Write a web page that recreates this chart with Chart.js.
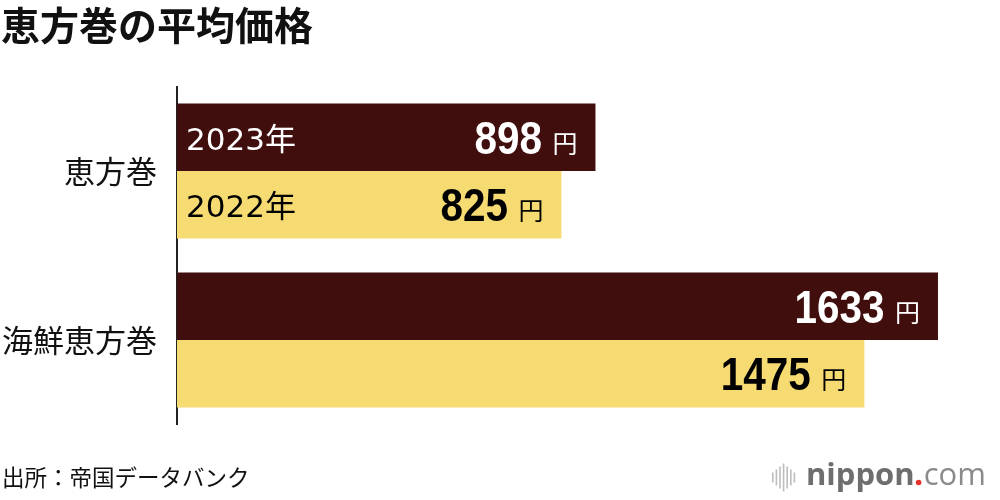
<!DOCTYPE html>
<html lang="ja">
<head>
<meta charset="utf-8">
<title>恵方巻の平均価格</title>
<script src="https://cdn.jsdelivr.net/npm/chart.js@4/dist/chart.umd.min.js"></script>
<style>
  html, body { margin: 0; padding: 0; background: #fff; }
  #wrap { width: 1000px; height: 500px; position: relative; }
</style>
</head>
<body>
<div id="wrap"><canvas id="ehoChart" width="1000" height="500"></canvas></div>
<script>
// data
const categories = ["恵方巻", "海鮮恵方巻"];
const years = ["2023年", "2022年"];
const prices2023 = [898, 1633];
const prices2022 = [825, 1475];
const unitLabel = "円";
const titleText = "恵方巻の平均価格";
const sourceText = "出所：帝国データバンク";

const MAROON = "#410e0e";
const YELLOW = "#f6da72";
const JP = "'Noto Sans CJK JP', 'Noto Sans', sans-serif";

// title, source and logo
const decorPlugin = {
  id: "decor",
  afterDraw(chart) {
    const ctx = chart.ctx;
    ctx.save();
    ctx.fillStyle = "#111";
    ctx.textAlign = "left";
    ctx.textBaseline = "alphabetic";
    ctx.font = "bold 39px " + JP;
    ctx.fillText(titleText, 1, 40);

    ctx.font = "22.5px " + JP;
    ctx.fillStyle = "#111";
    ctx.fillText(sourceText, 2, 486);

    // nippon.com logo
    const bars = [10, 16, 22, 28, 22, 16, 10];
    ctx.fillStyle = "#bdbdbd";
    bars.forEach((h, i) => {
      ctx.fillRect(772 + i * 3.6, 477.5 - h / 2, 1.6, h);
    });
    ctx.font = "bold 31px 'Open Sans', sans-serif";
    ctx.fillStyle = "#6e6e6e";
    ctx.fillText("nippon", 806, 485);
    let x = 806 + ctx.measureText("nippon").width;
    ctx.fillStyle = "#e8302e";
    ctx.beginPath();
    ctx.arc(x + 4, 482.5, 2.8, 0, Math.PI * 2);
    ctx.fill();
    ctx.font = "31px 'Open Sans', sans-serif";
    ctx.fillStyle = "#8a8a8a";
    ctx.fillText("com", x + 9, 485);
    ctx.restore();
  }
};

// year labels and value labels inside the bars
const barLabelPlugin = {
  id: "barLabels",
  afterDatasetsDraw(chart) {
    const ctx = chart.ctx;
    ctx.save();
    chart.data.datasets.forEach((ds, di) => {
      const meta = chart.getDatasetMeta(di);
      const color = di === 0 ? "#fff" : "#000";
      meta.data.forEach((bar, i) => {
        const end = bar.x, mid = bar.y, base = bar.base;
        ctx.fillStyle = color;
        ctx.textBaseline = "alphabetic";

        if (i === 0) {
          ctx.textAlign = "left";
          ctx.font = "31px 'DejaVu Sans', " + JP;
          ctx.fillText(ds.label, base + 9, mid + 12.5);
        }

        // unit
        ctx.textAlign = "right";
        ctx.font = "25px " + JP;
        ctx.fillText(unitLabel, end - 18, mid + 15.5);

        // number, slightly condensed
        ctx.save();
        ctx.translate(end - 53.5, mid + 16.5);
        ctx.scale(0.88, 1);
        ctx.font = "bold 46px 'Liberation Sans', Arial, sans-serif";
        ctx.textAlign = "right";
        ctx.fillText(String(ds.data[i]), 0, 0);
        ctx.restore();
      });
    });
    ctx.restore();
  }
};

new Chart(document.getElementById("ehoChart"), {
  type: "bar",
  data: {
    labels: categories,
    datasets: [
      { label: years[0], data: prices2023, backgroundColor: MAROON },
      { label: years[1], data: prices2022, backgroundColor: YELLOW }
    ]
  },
  options: {
    indexAxis: "y",
    responsive: false,
    animation: false,
    devicePixelRatio: 1,
    barPercentage: 1,
    categoryPercentage: 0.8,
    layout: { padding: { top: 86.5, bottom: 75.5, left: 0, right: 30.8 } },
    plugins: {
      legend: { display: false },
      tooltip: { enabled: false },
      title: { display: false }
    },
    scales: {
      x: {
        display: false,
        min: 0,
        max: 1700
      },
      y: {
        afterFit(scale) { scale.width = 177; },
        grid: { display: false, drawTicks: false },
        border: { display: true, color: "#222", width: 2 },
        ticks: {
          padding: 20,
          color: "#111",
          font: { family: JP, size: 31 }
        }
      }
    }
  },
  plugins: [barLabelPlugin, decorPlugin]
});
</script>
</body>
</html>
